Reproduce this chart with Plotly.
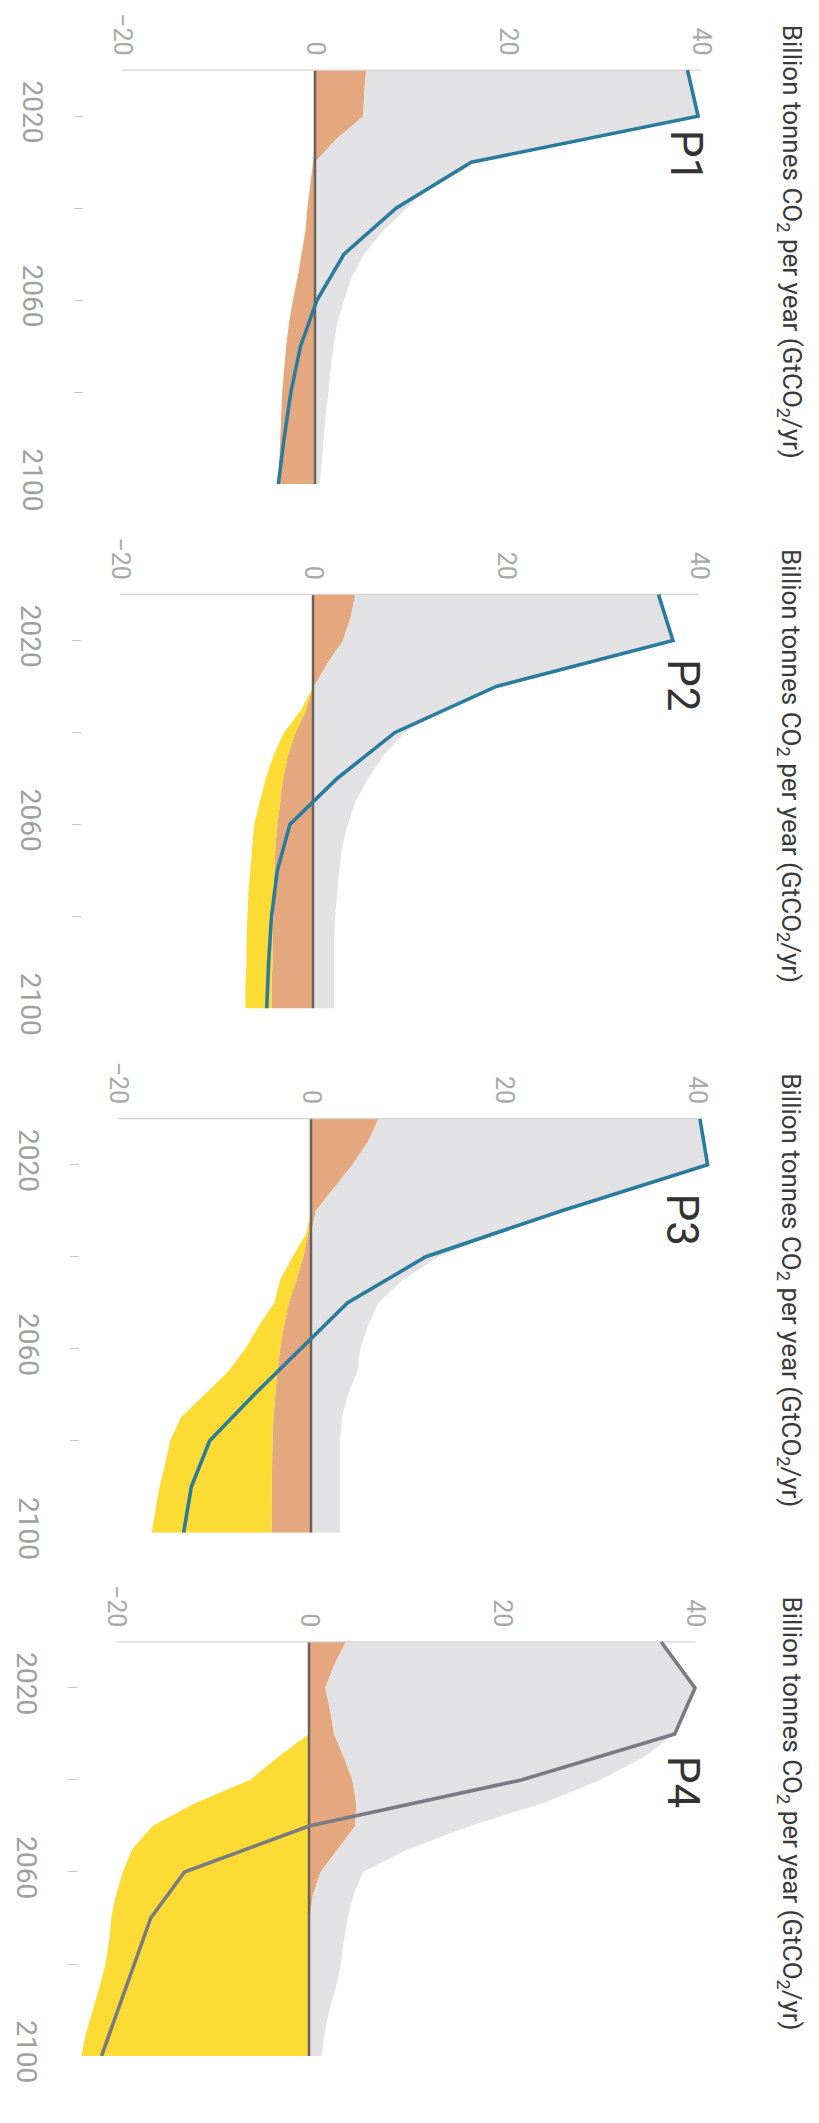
import plotly.graph_objects as go

# ---------------- data ----------------
years5 = [2010, 2015, 2020, 2025, 2030, 2035, 2040, 2045, 2050, 2055,
          2060, 2065, 2070, 2075, 2080, 2085, 2090, 2095, 2100]
years10 = [2010, 2020, 2030, 2040, 2050, 2060, 2070, 2080, 2090, 2100]

panel_names = ["P1", "P2", "P3", "P4"]

# Fossil fuel and industry (GtCO2/yr)
fossil_p1 = [33.3, 34.1, 34.7, 25.6, 16.0, 12.0, 9.5, 7.0, 5.1, 3.8, 3.0, 2.3, 1.9, 1.6, 1.4, 1.1, 0.9, 0.7, 0.5]
fossil_p2 = [31.4, 32.6, 34.2, 26.7, 18.9, 13.8, 9.5, 7.3, 5.7, 4.4, 3.6, 3.0, 2.7, 2.5, 2.3, 2.2, 2.2, 2.2, 2.2]
fossil_p3 = [33.3, 34.8, 36.8, 31.1, 25.5, 19.2, 13.2, 9.5, 7.0, 5.9, 5.1, 4.8, 3.8, 3.2, 3.0, 3.0, 3.0, 3.0, 3.0]
fossil_p4 = [32.7, 35.6, 38.3, 36.8, 35.3, 31.1, 25.7, 19.4, 11.9, 7.3, 4.4, 4.2, 3.9, 3.6, 3.3, 2.8, 2.1, 1.6, 1.3]

# AFOLU (GtCO2/yr)
afolu_p1 = [5.3, 5.1, 5.0, 2.2, -0.2, -0.5, -0.8, -1.0, -1.4, -1.8, -2.3, -2.7, -3.0, -3.2, -3.4, -3.5, -3.6, -3.7, -3.7]
afolu_p2 = [4.4, 3.9, 3.1, 1.5, 0.1, -0.7, -1.8, -2.6, -3.1, -3.4, -3.7, -3.9, -4.0, -4.1, -4.1, -4.2, -4.2, -4.3, -4.3]
afolu_p3 = [7.0, 5.9, 4.3, 2.4, 0.5, -0.3, -0.8, -1.5, -2.3, -2.8, -3.2, -3.5, -3.7, -3.9, -4.0, -4.05, -4.1, -4.1, -4.1]
afolu_p4 = [3.8, 2.6, 1.7, 2.2, 2.6, 3.6, 4.5, 4.9, 4.8, 3.0, 1.2, 0.4, 0.1, 0.0, 0.0, 0.0, 0.0, 0.0, 0.0]

# BECCS (GtCO2/yr)
beccs_p1 = [0.0] * 19
beccs_p2 = [0.0, 0.0, 0.0, 0.0, 0.0, -0.5, -1.2, -1.5, -1.8, -2.1, -2.4, -2.4, -2.5, -2.6, -2.7, -2.7, -2.7, -2.7, -2.7]
beccs_p3 = [0.0, 0.0, 0.0, 0.0, 0.0, -0.2, -1.1, -1.7, -1.5, -2.6, -3.6, -5.1, -7.4, -9.6, -10.6, -11.05, -11.6, -12.0, -12.4]
beccs_p4 = [0.0, 0.0, 0.0, 0.0, 0.0, -3.2, -6.1, -11.8, -16.2, -18.3, -19.3, -20.0, -20.5, -20.7, -21.1, -21.7, -22.4, -23.1, -23.6]

# Net CO2 emissions (GtCO2/yr)
net_p1 = [38.6, 39.7, 16.2, 8.4, 3.0, 0.2, -1.5, -2.5, -3.2, -3.8]
net_p2 = [35.8, 37.3, 19.0, 8.5, 2.5, -2.4, -3.7, -4.3, -4.6, -4.8]
net_p3 = [40.3, 41.1, 26.0, 11.9, 3.8, -1.1, -5.9, -10.5, -12.4, -13.2]
net_p4 = [36.5, 40.0, 37.9, 22.0, 0.0, -12.9, -16.4, -18.1, -19.8, -21.5]

label_pos_year = [2028.7, 2029.8, 2032.0, 2040.5]
label_pos_value = [38.4, 38.4, 38.5, 38.7]

value_ticks = [-20, 0, 20, 40]
year_ticks = [2020, 2060, 2100]
axis_title = "Billion tonnes CO<sub>2</sub> per year (GtCO<sub>2</sub>/yr)"

fossil = [fossil_p1, fossil_p2, fossil_p3, fossil_p4]
afolu = [afolu_p1, afolu_p2, afolu_p3, afolu_p4]
beccs = [beccs_p1, beccs_p2, beccs_p3, beccs_p4]
net = [net_p1, net_p2, net_p3, net_p4]

# ---------------- style / geometry ----------------
W, H = 819, 2123
GRAY = "#e2e2e5"
BROWN = "#e5a77e"
YELLOW = "#fddb35"
BLUE = "#2b7b9d"
P4LINE = "#7a7b82"
ZERO = "#6c625c"
FONT = "Liberation Sans Narrow, Roboto, sans-serif"

px_per_year = 4.66
px_per_unit = 9.65
panel_tops = [63, 594, 1125, 1655]     # pixel row of year 2010
panel_zero = [307, 305, 303, 301]      # pixel column of value 0
x_lo, x_hi = -25, 45
pad_year = 0.4

fig = go.Figure()
layout = dict(width=W, height=H, margin=dict(l=0, r=0, t=0, b=0),
              paper_bgcolor="white", plot_bgcolor="rgba(0,0,0,0)",
              showlegend=False, annotations=[])

for i in range(4):
    k = "" if i == 0 else str(i + 1)
    xa, ya = "x" + k, "y" + k
    t = panel_tops[i]
    dom_top = t - px_per_year * pad_year
    dom_bot = t + px_per_year * (years5[-1] - years5[0])
    x0 = panel_zero[i] + x_lo * px_per_unit
    x1 = panel_zero[i] + x_hi * px_per_unit

    pos_base = [max(a, 0) for a in afolu[i]]
    pos_top = [b + f for b, f in zip(pos_base, fossil[i])]
    neg_base = [min(a, 0) for a in afolu[i]]
    neg_bot = [b + c for b, c in zip(neg_base, beccs[i])]

    common = dict(mode="lines", line=dict(width=0), xaxis=xa, yaxis=ya, hoverinfo="skip")
    fig.add_trace(go.Scatter(x=pos_base, y=years5, fill="tozerox", fillcolor=BROWN, **common))
    fig.add_trace(go.Scatter(x=pos_top, y=years5, fill="tonextx", fillcolor=GRAY, **common))
    fig.add_trace(go.Scatter(x=neg_base, y=years5, fill="tozerox", fillcolor=BROWN, **common))
    fig.add_trace(go.Scatter(x=neg_bot, y=years5, fill="tonextx", fillcolor=YELLOW, **common))
    # zero line
    fig.add_trace(go.Scatter(x=[0, 0], y=[years5[0], years5[-1]], mode="lines",
                             line=dict(color=ZERO, width=2.5), xaxis=xa, yaxis=ya))
    # value axis line
    fig.add_trace(go.Scatter(x=[min(value_ticks), max(value_ticks)], y=[years5[0]] * 2,
                             mode="lines", line=dict(color="#d4d4d4", width=1.3),
                             xaxis=xa, yaxis=ya))
    # net line
    fig.add_trace(go.Scatter(x=net[i], y=years10, mode="lines",
                             line=dict(color=P4LINE if i == 3 else BLUE, width=3.6),
                             xaxis=xa, yaxis=ya))

    layout["xaxis" + k] = dict(domain=[x0 / W, x1 / W], range=[x_lo, x_hi],
                               anchor=ya, side="top", tickvals=value_ticks,
                               tickangle=90, ticks="", showgrid=False, zeroline=False,
                               showline=False, ticklabelstandoff=8,
                               tickfont=dict(family=FONT, size=25, color="#a9a9a9"))
    layout["yaxis" + k] = dict(domain=[1 - dom_bot / H, 1 - dom_top / H],
                               range=[years5[-1], years5[0] - pad_year], anchor=xa,
                               tickvals=year_ticks,
                               tickangle=90, ticks="inside", ticklen=9, tickwidth=1,
                               tickcolor="#c8c8c8", showgrid=False, zeroline=False,
                               showline=False, ticklabelstandoff=22,
                               minor=dict(dtick=20, tick0=2000, ticks="inside", ticklen=9,
                                          tickwidth=1, tickcolor="#c8c8c8", showgrid=False),
                               tickfont=dict(family=FONT, size=28, color="#a0a0a0"))
    layout["annotations"].append(dict(
        text=axis_title, xref="paper", yref="paper", x=782 / W,
        y=1 - (15 + panel_tops[i] - panel_tops[0]) / H,
        xanchor="center", yanchor="top", textangle=90, showarrow=False,
        font=dict(family=FONT, size=26, color="#3a3a3a")))
    layout["annotations"].append(dict(
        text=panel_names[i], xref=xa, yref=ya, x=label_pos_value[i], y=label_pos_year[i],
        xanchor="center", yanchor="middle", textangle=90, showarrow=False,
        font=dict(family=FONT, size=44, color="#333333")))

fig.update_layout(**layout)
fig.write_html("out.html")
